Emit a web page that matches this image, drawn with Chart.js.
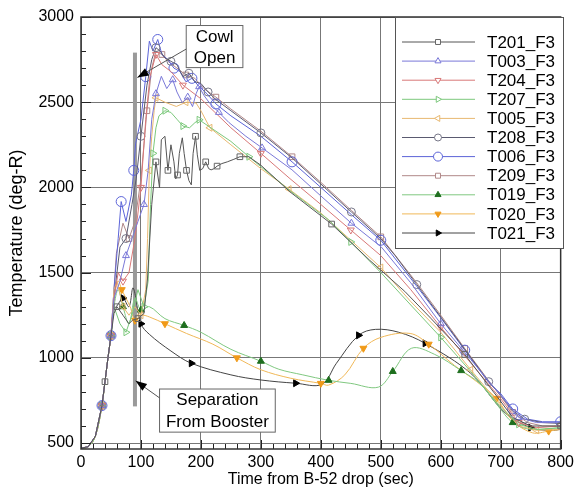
<!DOCTYPE html>
<html>
<head>
<meta charset="utf-8">
<script src="https://cdn.jsdelivr.net/npm/chart.js@4.4.1/dist/chart.umd.min.js"></script>
<style>
  body { margin: 0; background: #fff; }
</style>
</head>
<body>
<canvas id="tempChart" width="578" height="489"></canvas>
<script>
// shared climb after drop (sec, deg-R)
var rise = [[0, 470], [12, 478], [24, 540], [35, 720], [40, 860], [45, 1000], [50, 1130]];

var t201 = [[55, 1260], [60, 1300], [70, 1250], [80, 1200], [86, 1221], [95, 1230], [105, 1260], [111, 1468], [118, 1900], [125, 2150], [131, 1997], [134, 2280], [140, 2300], [145, 2100], [150, 2250], [155, 2150], [158, 2050], [161, 2073], [164, 2200], [169, 2291], [172, 2200], [176, 2100], [180, 2040], [184, 2015], [187, 2200], [191, 2300], [194, 2191], [198, 2100], [203, 2110], [208, 2150], [213, 2110], [217, 2103], [222, 2110], [227, 2125], [235, 2140], [244, 2150], [255, 2165], [265, 2180], [280, 2180], [300, 2130], [350, 1970], [418, 1785], [481, 1574], [540, 1390], [584, 1230], [640, 1020], [695, 768], [720, 650], [750, 600], [800, 600]];
var t003 = [[55, 1350], [65, 1450], [75, 1600], [85, 1700], [95, 1800], [105, 1900], [112, 2100], [118, 2400], [125, 2550], [134, 2652], [143, 2580], [153, 2632], [160, 2560], [169, 2497], [178, 2530], [186, 2474], [192, 2550], [197, 2591], [205, 2540], [214, 2497], [230, 2440], [247, 2380], [275, 2300], [302, 2232], [352, 2103], [400, 1950], [451, 1790], [501, 1650], [550, 1440], [600, 1200], [650, 990], [700, 780], [730, 650], [760, 620], [800, 620]];
var t204 = [[55, 1350], [62, 1500], [70, 1450], [80, 1500], [90, 1700], [100, 2000], [108, 2400], [115, 2650], [125, 2780], [135, 2720], [150, 2680], [170, 2600], [200, 2520], [250, 2350], [300, 2200], [347, 2056], [400, 1900], [450, 1750], [500, 1600], [550, 1400], [600, 1180], [650, 970], [700, 760], [730, 620], [760, 590], [800, 600]];
var t207 = [[55, 1300], [65, 1200], [75, 1150], [85, 1250], [95, 1400], [105, 1300], [112, 1450], [116, 1900], [120, 2200], [125, 2350], [130, 2420], [140, 2450], [150, 2440], [160, 2400], [170, 2360], [181, 2350], [190, 2380], [197, 2397], [214, 2356], [250, 2270], [280, 2180], [347, 1985], [413, 1810], [450, 1680], [501, 1497], [550, 1310], [600, 1120], [650, 920], [700, 710], [730, 610], [760, 580], [800, 590]];
var t005 = [[55, 1400], [60, 1450], [70, 1300], [80, 1250], [90, 1300], [100, 1250], [108, 1400], [111, 1700], [114, 2100], [118, 2300], [122, 2450], [125, 2526], [140, 2500], [159, 2475], [175, 2500], [192, 2495], [200, 2450], [215, 2350], [250, 2250], [300, 2110], [347, 1990], [400, 1850], [450, 1690], [500, 1530], [550, 1330], [600, 1150], [650, 930], [700, 720], [730, 600], [760, 575], [800, 580]];
var t208 = [[55, 1350], [65, 1650], [75, 1700], [85, 1900], [92, 2050], [100, 2300], [110, 2600], [118, 2750], [125, 2820], [132, 2800], [140, 2760], [150, 2740], [160, 2720], [170, 2650], [180, 2670], [190, 2620], [200, 2610], [212, 2560], [225, 2515], [250, 2450], [300, 2320], [352, 2173], [400, 2020], [451, 1856], [500, 1700], [524, 1600], [560, 1430], [600, 1240], [640, 1050], [680, 860], [700, 780], [720, 690], [740, 640], [770, 620], [800, 615]];
var t006 = [[55, 1400], [62, 1700], [67, 1917], [75, 1800], [84, 1956], [88, 2100], [91, 2256], [100, 2400], [108, 2650], [114, 2858], [120, 2800], [128, 2868], [135, 2780], [145, 2750], [155, 2700], [165, 2680], [175, 2620], [185, 2640], [195, 2600], [210, 2550], [225, 2490], [250, 2420], [300, 2300], [352, 2150], [400, 2000], [451, 1840], [500, 1690], [560, 1420], [600, 1235], [640, 1045], [680, 855], [700, 790], [720, 700], [745, 640], [770, 625], [800, 625]];
var t209 = [[59, 1613], [70, 1790], [80, 1700], [90, 1800], [100, 2050], [110, 2450], [118, 2700], [125, 2800], [135, 2780], [145, 2740], [160, 2700], [175, 2660], [190, 2640], [205, 2580], [225, 2530], [250, 2460], [300, 2330], [352, 2180], [400, 2030], [451, 1865], [500, 1710], [560, 1440], [600, 1250], [640, 1055], [680, 865], [700, 775], [720, 680], [745, 620], [770, 600], [800, 600]];
var t019 = [[55, 1300], [62, 1400], [70, 1300], [80, 1200], [90, 1350], [100, 1280], [114, 1300], [140, 1230], [172, 1190], [200, 1150], [250, 1050], [300, 980], [330, 933], [370, 900], [413, 868], [450, 850], [496, 828], [520, 920], [551, 1056], [590, 1020], [634, 925], [665, 850], [695, 720], [720, 620], [750, 580], [800, 590]];
var t020 = [[55, 1350], [62, 1450], [68, 1400], [75, 1350], [82, 1300], [90, 1220], [100, 1250], [114, 1240], [140, 1200], [176, 1143], [220, 1080], [260, 1000], [300, 930], [350, 880], [400, 850], [413, 840], [440, 900], [471, 1056], [500, 1120], [549, 1143], [580, 1080], [623, 955], [660, 860], [693, 762], [720, 630], [753, 560], [780, 570], [800, 580]];
var t021 = [[55, 1280], [61, 1310], [70, 1350], [80, 1300], [87, 1410], [100, 1200], [114, 1138], [150, 1040], [184, 968], [250, 900], [300, 870], [358, 851], [402, 845], [426, 968], [463, 1132], [491, 1167], [530, 1150], [574, 1085], [650, 909], [708, 675], [750, 590], [783, 574], [800, 580]];

var seriesNames = ['T201_F3', 'T003_F3', 'T204_F3', 'T207_F3', 'T005_F3', 'T208_F3', 'T006_F3', 'T209_F3', 'T019_F3', 'T020_F3', 'T021_F3'];
var seriesData = [t201, t003, t204, t207, t005, t208, t006, t209, t019, t020, t021];

var xTickValues = [0, 100, 200, 300, 400, 500, 600, 700, 800];
var yTickValues = [500, 1000, 1500, 2000, 2500, 3000];

// separation marker bar (sec, from/to deg-R)
var sepBar = { x: 90, y0: 715, y1: 2791 };

var styles = [
  { color: '#555555', mark: '#666666', shape: 'rect', rot: 0, fill: false, r: 4, every: 4 },
  { color: '#7a78d8', mark: '#7a78d8', shape: 'triangle', rot: 0, fill: false, r: 4, every: 3 },
  { color: '#d87878', mark: '#d87878', shape: 'triangle', rot: 180, fill: false, r: 4, every: 3 },
  { color: '#7cc87c', mark: '#7cc87c', shape: 'triangle', rot: 90, fill: false, r: 4, every: 3 },
  { color: '#e8b870', mark: '#e8b870', shape: 'triangle', rot: -90, fill: false, r: 4, every: 3 },
  { color: '#5a5a70', mark: '#777788', shape: 'circle', rot: 0, fill: false, r: 4, every: 3 },
  { color: '#5c64d8', mark: '#5c64d8', shape: 'circle', rot: 0, fill: false, r: 5, every: 3 },
  { color: '#b08888', mark: '#b08888', shape: 'rect', rot: 0, fill: false, r: 4, every: 3 },
  { color: '#80c880', mark: '#1e6e1e', shape: 'triangle', rot: 0, fill: true, r: 4, every: 3 },
  { color: '#f0b858', mark: '#f09a18', shape: 'triangle', rot: 180, fill: true, r: 4, every: 3 },
  { color: '#444444', mark: '#000000', shape: 'triangle', rot: 90, fill: true, r: 4, every: 3 }
];

var FONT = "'Liberation Sans', Arial, sans-serif";

var datasets = seriesNames.map(function (name, i) {
  var st = styles[i];
  var pts = rise.concat(seriesData[i]).map(function (p) { return { x: p[0], y: p[1] }; });
  return {
    label: name,
    data: pts,
    borderColor: st.color,
    borderWidth: 1,
    tension: i >= 8 ? 0.35 : 0,
    pointStyle: st.shape,
    rotation: st.rot,
    pointBorderColor: st.mark,
    pointBackgroundColor: st.fill ? st.mark : 'rgba(255,255,255,0)',
    pointBorderWidth: 1,
    pointRadius: function (c) { return (c.index > 2 && c.index % st.every === 0) ? st.r : 0; }
  };
});

function arrow(ctx, x0, y0, x1, y1) {
  ctx.beginPath();
  ctx.moveTo(x0, y0);
  ctx.lineTo(x1, y1);
  ctx.strokeStyle = '#555';
  ctx.lineWidth = 1;
  ctx.stroke();
  var a = Math.atan2(y1 - y0, x1 - x0);
  ctx.beginPath();
  ctx.moveTo(x1, y1);
  ctx.lineTo(x1 - 12 * Math.cos(a - 0.35), y1 - 12 * Math.sin(a - 0.35));
  ctx.lineTo(x1 - 12 * Math.cos(a + 0.35), y1 - 12 * Math.sin(a + 0.35));
  ctx.closePath();
  ctx.fillStyle = '#000';
  ctx.fill();
}

function textBox(ctx, sx, sy, x0, y0, x1, y1, lines) {
  var l = sx.getPixelForValue(x0), r = sx.getPixelForValue(x1);
  var t = sy.getPixelForValue(y0), b = sy.getPixelForValue(y1);
  ctx.fillStyle = '#fff';
  ctx.fillRect(l, t, r - l, b - t);
  ctx.strokeStyle = '#666';
  ctx.lineWidth = 1;
  ctx.strokeRect(l, t, r - l, b - t);
  ctx.fillStyle = '#000';
  ctx.font = '17px ' + FONT;
  ctx.textAlign = 'center';
  ctx.textBaseline = 'middle';
  var h = (b - t) / lines.length;
  lines.forEach(function (s, k) { ctx.fillText(s, (l + r) / 2, t + h * (k + 0.5) + 1); });
}

var decor = {
  id: 'decor',
  beforeDatasetsDraw: function (chart) {
    var ctx = chart.ctx, sx = chart.scales.x, sy = chart.scales.y;
    var bx = sx.getPixelForValue(sepBar.x);
    ctx.save();
    ctx.fillStyle = '#9a9a9a';
    ctx.fillRect(bx - 2, sy.getPixelForValue(sepBar.y1), 4, sy.getPixelForValue(sepBar.y0) - sy.getPixelForValue(sepBar.y1));
    ctx.restore();
  },
  afterDraw: function (chart) {
    var ctx = chart.ctx, sx = chart.scales.x, sy = chart.scales.y, a = chart.chartArea;
    ctx.save();
    // minor ticks
    ctx.strokeStyle = '#222';
    ctx.lineWidth = 1;
    for (var v = 0; v <= 800; v += 20) {
      var px = Math.round(sx.getPixelForValue(v)) + 0.5;
      ctx.beginPath();
      ctx.moveTo(px, a.bottom);
      ctx.lineTo(px, a.bottom - (v % 100 === 0 ? 9 : 5));
      ctx.stroke();
    }
    for (var w = 500; w <= 3000; w += 100) {
      var py = Math.round(sy.getPixelForValue(w)) + 0.5;
      ctx.beginPath();
      ctx.moveTo(a.left, py);
      ctx.lineTo(a.left + (w % 500 === 0 ? 10 : 5), py);
      ctx.stroke();
    }
    // frame
    ctx.lineWidth = 1.5;
    ctx.strokeStyle = '#333';
    ctx.strokeRect(a.left, a.top, a.right - a.left, a.bottom - a.top);

    // annotations
    textBox(ctx, sx, sy, 175.5, 2950, 270, 2703, ['Cowl', 'Open']);
    arrow(ctx, sx.getPixelForValue(175.5), sy.getPixelForValue(2812), sx.getPixelForValue(94), sy.getPixelForValue(2645));
    textBox(ctx, sx, sy, 131, 817, 324, 564, ['Separation', 'From Booster']);
    arrow(ctx, sx.getPixelForValue(131), sy.getPixelForValue(765), sx.getPixelForValue(91), sy.getPixelForValue(865));

    // legend
    var lx = 395, ly = 17, lw = 168, lh = 231;
    ctx.fillStyle = '#fff';
    ctx.fillRect(lx, ly, lw, lh);
    ctx.strokeStyle = '#555';
    ctx.lineWidth = 1;
    ctx.strokeRect(lx + 0.5, ly + 0.5, lw, lh);
    ctx.font = '17px ' + FONT;
    ctx.textAlign = 'left';
    ctx.textBaseline = 'middle';
    seriesNames.forEach(function (name, i) {
      var st = styles[i];
      var y = ly + 25 + i * 19.1;
      ctx.beginPath();
      ctx.moveTo(lx + 7, y);
      ctx.lineTo(lx + 80, y);
      ctx.strokeStyle = st.color;
      ctx.lineWidth = 1;
      ctx.stroke();
      ctx.strokeStyle = st.mark;
      ctx.fillStyle = st.fill ? st.mark : '#fff';
      Chart.helpers.drawPoint(ctx, { pointStyle: st.shape, rotation: st.rot, radius: st.r - 0.5, borderWidth: 1 }, lx + 43, y);
      ctx.fillStyle = '#000';
      ctx.fillText(name, lx + 92, y + 1);
    });
    ctx.restore();
  }
};

new Chart(document.getElementById('tempChart').getContext('2d'), {
  type: 'line',
  data: { datasets: datasets },
  options: {
    responsive: false,
    animation: false,
    layout: { padding: { left: 6, right: 14, top: 17, bottom: 0 } },
    plugins: { legend: { display: false }, tooltip: { enabled: false } },
    scales: {
      x: {
        type: 'linear',
        min: 0,
        max: 800,
        afterBuildTicks: function (s) { s.ticks = xTickValues.map(function (v) { return { value: v }; }); },
        afterFit: function (s) { s.height = 40; },
        grid: { color: '#777', lineWidth: 1, drawTicks: false },
        border: { display: false },
        ticks: { color: '#000', padding: 4, maxRotation: 0, font: { family: FONT, size: 16 }, callback: function (v) { return String(v); } },
        title: { display: true, text: 'Time from B-52 drop (sec)', color: '#000', padding: 0, font: { family: FONT, size: 16 } }
      },
      y: {
        min: 465,
        max: 3000,
        afterBuildTicks: function (s) { s.ticks = yTickValues.map(function (v) { return { value: v }; }); },
        afterFit: function (s) { s.width = 75; },
        grid: { color: '#777', lineWidth: 1, drawTicks: false },
        border: { display: false },
        ticks: { color: '#000', padding: 7, font: { family: FONT, size: 16 }, callback: function (v) { return String(v); } },
        title: { display: true, text: 'Temperature (deg-R)', color: '#000', padding: 0, font: { family: FONT, size: 18 } }
      }
    }
  },
  plugins: [decor]
});
</script>
</body>
</html>
